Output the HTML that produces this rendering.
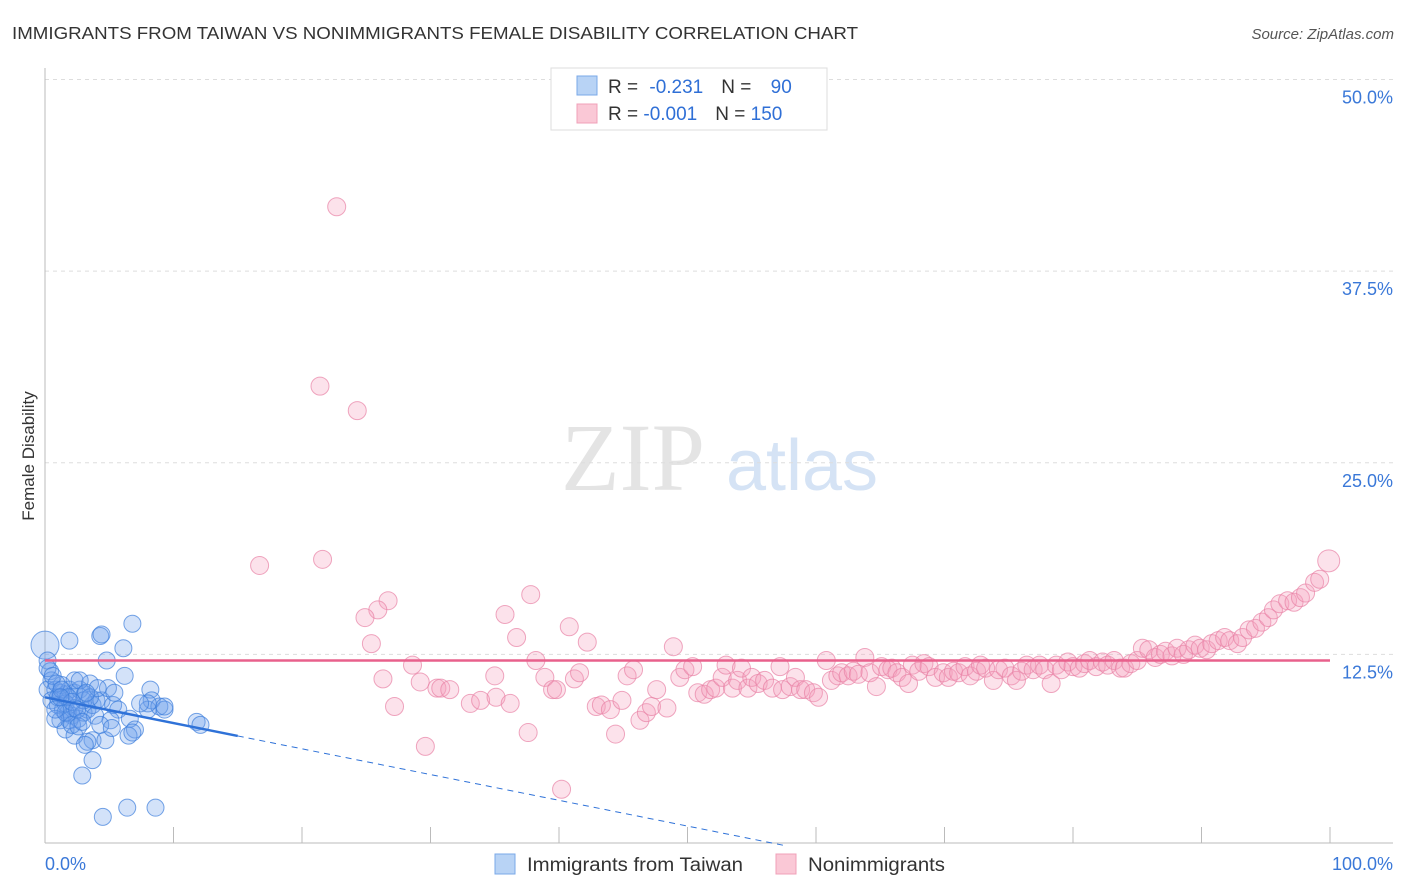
<!DOCTYPE html>
<html><head><meta charset="utf-8">
<style>
body{margin:0;background:#fff;font-family:"Liberation Sans",sans-serif;}
#wrap{position:relative;width:1406px;height:892px;overflow:hidden;}
</style></head>
<body>
<div id="wrap">
<svg id="chart" width="1406" height="892" xmlns="http://www.w3.org/2000/svg">
<text x="12" y="39" font-size="17.5" fill="#333" textLength="846" lengthAdjust="spacingAndGlyphs">IMMIGRANTS FROM TAIWAN VS NONIMMIGRANTS FEMALE DISABILITY CORRELATION CHART</text>
<text x="1394" y="39" font-size="15" fill="#555" font-style="italic" text-anchor="end">Source: ZipAtlas.com</text>
<text x="34" y="456" font-size="17" fill="#333" text-anchor="middle" transform="rotate(-90 34 456)">Female Disability</text>
<g>
<text x="633" y="490" font-size="96" fill="#e4e4e4" font-family="Liberation Serif,serif" text-anchor="middle">ZIP</text>
<text x="802" y="490" font-size="72" fill="#d5e3f5" text-anchor="middle">atlas</text>
</g>
<g id="grid"></g>
<g id="axes"></g>
<g id="pinkPts"></g>
<g id="bluePts"></g>
<g id="trends"></g>
<g>
<rect x="551" y="68" width="276" height="62" fill="#fff" stroke="#ddd"/>
<rect x="577" y="76" width="20" height="19" fill="#b8d3f5" stroke="#7aa8e8"/>
<rect x="577" y="104" width="20" height="19" fill="#fac8d6" stroke="#f0a0b8"/>
<text x="608" y="93" font-size="19" fill="#333">R = <tspan fill="#2f6fd6" dx="6">-0.231</tspan><tspan dx="18" fill="#333">N = </tspan><tspan fill="#2f6fd6" dx="14">90</tspan></text>
<text x="608" y="120" font-size="19" fill="#333">R = <tspan fill="#2f6fd6">-0.001</tspan><tspan dx="18" fill="#333">N = </tspan><tspan fill="#2f6fd6">150</tspan></text>
</g>
<g>
<rect x="495" y="854" width="20" height="20" fill="#b8d3f5" stroke="#7aa8e8"/>
<text x="527" y="871" font-size="19" fill="#333" textLength="216" lengthAdjust="spacingAndGlyphs">Immigrants from Taiwan</text>
<rect x="776" y="854" width="20" height="20" fill="#fac8d6" stroke="#f0a0b8"/>
<text x="808" y="871" font-size="19" fill="#333" textLength="137" lengthAdjust="spacingAndGlyphs">Nonimmigrants</text>
</g>
</svg>
</div>
<script>
const yTicks=[12.5,25,37.5,50];
const yTickLabels=["12.5%","25.0%","37.5%","50.0%"];
const xTickVals=[0,10,20,30,40,50,60,70,80,90,100];
const blueX=[0,0.2,0.4,0.5,0.2,0.8,1.2,1.6,1.9,2.3,2.7,3.1,0.5,1.0,1.4,1.8,2.1,2.6,3.0,3.3,3.7,4.0,4.4,4.9,5.3,5.7,6.2,6.1,6.8,4.3,4.4,1.9,4.8,6.6,7.0,8.2,8.3,8.0,8.9,9.3,11.8,12.1,3.7,4.7,3.7,2.9,4.5,6.4,8.6,1.2,1.6,2.3,3.3,1.9,0.8,1.3,2.3,3.5,3.9,5.1,6.5,6.8,8.0,1.0,1.6,2.3,3.0,3.5,2.7,1.6,2.1,2.6,3.1,4.1,5.4,7.4,9.3,0.2,0.6,0.9,1.3,1.8,2.1,2.5,2.9,4.3,5.2,0.8,1.2,3.2];
const blueY=[13.1,12.1,11.4,10.8,10.2,10.2,10.0,9.9,10.2,10.0,10.2,9.9,9.5,9.2,8.9,8.7,8.5,8.3,8.7,8.9,9.2,9.5,9.5,10.3,9.2,8.9,11.1,12.9,14.5,13.7,13.8,13.4,12.1,8.3,7.6,10.2,9.5,8.9,9.1,8.9,8.1,7.9,6.9,6.9,5.6,4.6,1.9,2.5,2.5,8.2,7.6,7.2,6.8,8.2,8.3,10.5,10.8,10.6,8.5,8.2,7.2,7.4,9.3,9.7,9.3,9.0,9.5,9.7,10.8,8.7,7.9,7.8,6.6,10.3,10.0,9.3,9.1,11.6,11.1,10.6,10.2,9.7,9.4,8.9,8.1,7.9,7.7,8.9,9.7,10.0];
const pinkX=[22.7,21.4,24.3,16.7,21.6,26.7,25.9,24.9,25.4,26.3,27.2,28.6,29.2,30.5,30.8,31.5,29.6,33.1,33.9,35.0,35.1,35.8,36.2,36.7,37.6,37.8,38.2,38.9,39.5,39.8,40.2,40.8,41.2,41.6,42.2,42.9,43.3,44.0,44.4,44.9,45.3,45.8,46.3,46.8,47.2,47.6,48.4,48.9,49.4,49.8,50.4,50.8,51.3,51.8,52.2,52.7,53.0,53.5,53.9,54.2,54.7,55.0,55.5,56.0,56.6,57.2,57.4,58.0,58.4,58.8,59.2,59.8,60.2,60.8,61.2,61.7,62.0,62.5,62.9,63.3,63.8,64.2,64.7,65.1,65.6,65.9,66.3,66.7,67.2,67.5,68.0,68.4,68.8,69.3,69.9,70.3,70.7,71.1,71.6,72.0,72.5,72.8,73.2,73.8,74.2,74.7,75.2,75.6,76.0,76.4,76.9,77.4,77.8,78.3,78.7,79.1,79.6,80.0,80.5,80.9,81.3,81.8,82.3,82.7,83.2,83.7,84.0,84.5,85.0,85.4,85.9,86.4,86.8,87.2,87.7,88.1,88.6,89.0,89.5,89.9,90.4,90.8,91.3,91.8,92.2,92.8,93.2,93.7,94.2,94.7,95.2,95.6,96.1,96.7,97.2,97.7,98.1,98.8,99.2,99.9];
const pinkY=[41.7,30.0,28.4,18.3,18.7,16.0,15.4,14.9,13.2,10.9,9.1,11.8,10.7,10.3,10.3,10.2,6.5,9.3,9.5,11.1,9.7,15.1,9.3,13.6,7.4,16.4,12.1,11.0,10.2,10.2,3.7,14.3,10.9,11.3,13.3,9.1,9.2,8.9,7.3,9.5,11.1,11.5,8.2,8.7,9.1,10.2,9.0,13.0,11.0,11.5,11.7,10.0,9.9,10.2,10.3,11.0,11.8,10.3,10.8,11.6,10.3,11.0,10.6,10.8,10.3,11.7,10.2,10.4,11.0,10.2,10.2,10.0,9.7,12.1,10.8,11.1,11.3,11.1,11.4,11.2,12.3,11.3,10.4,11.7,11.5,11.6,11.3,11.0,10.6,11.8,11.4,11.9,11.7,11.0,11.3,11.0,11.4,11.3,11.7,11.1,11.4,11.8,11.6,10.8,11.5,11.6,11.1,10.8,11.4,11.8,11.5,11.8,11.5,10.6,11.8,11.5,12.0,11.7,11.6,11.9,12.1,11.7,12.0,11.8,12.1,11.6,11.6,11.9,12.1,12.9,12.8,12.3,12.5,12.7,12.4,12.9,12.5,12.8,13.1,12.9,12.8,13.2,13.4,13.6,13.4,13.2,13.6,14.1,14.2,14.6,14.9,15.4,15.8,16.0,15.9,16.2,16.5,17.2,17.4,18.6];
const blueTrend=[9.7,-0.168];
const pinkTrend=[12.1,0];
const NS="http://www.w3.org/2000/svg";
const X0=45,X1=1330,Y0=846,YS=15.33;
function xs(v){return X0+(X1-X0)*v/100;}
function ys(v){return Y0-v*YS;}
function mk(tag,attrs,parent){const e=document.createElementNS(NS,tag);for(const k in attrs)e.setAttribute(k,attrs[k]);parent.appendChild(e);return e;}
const grid=document.getElementById('grid'),axes=document.getElementById('axes');
yTicks.forEach((t,i)=>{
  const l=mk('line',{x1:X0,x2:1393,y1:ys(t),y2:ys(t),stroke:'#ddd','stroke-dasharray':'4,4'},grid);
  
  
  const tx=mk('text',{x:1393,y:ys(t)+24,'font-size':18,fill:'#3a78d8','text-anchor':'end'},axes);
  tx.textContent=yTickLabels[i];
  
  
});
let a=mk('line',{x1:X0,x2:X0,y1:68,y2:843,stroke:'#bbb'},axes);


a=mk('line',{x1:X0,x2:1393,y1:843,y2:843,stroke:'#bbb'},axes);


xTickVals.forEach(t=>{
  const l=mk('line',{x1:xs(t),x2:xs(t),y1:827,y2:843,stroke:'#bbb'},axes);
  
  
});
let t0=mk('text',{x:45,y:870,'font-size':18,fill:'#3a78d8'},axes);t0.textContent='0.0%';


let t1=mk('text',{x:1393,y:870,'font-size':18,fill:'#3a78d8','text-anchor':'end'},axes);t1.textContent='100.0%';


const pp=document.getElementById('pinkPts');
pinkX.forEach((x,i)=>{
  const c=mk('circle',{cx:xs(x),cy:ys(pinkY[i]),r:i==pinkX.length-1?11:9,fill:'rgba(245,160,190,0.3)',stroke:'rgba(232,130,165,0.7)','stroke-width':1},pp);
  
  
});
const bp=document.getElementById('bluePts');
blueX.forEach((x,i)=>{
  const c=mk('circle',{cx:xs(x),cy:ys(blueY[i]),r:i==0?14:8.5,fill:'rgba(110,160,235,0.3)',stroke:'rgba(60,125,220,0.7)','stroke-width':1},bp);
  
  
});
const tr=document.getElementById('trends');
let pl=mk('line',{x1:xs(0),x2:xs(100),y1:ys(pinkTrend[0]),y2:ys(pinkTrend[0]+pinkTrend[1]*100),stroke:'#e8608c','stroke-width':2.5},tr);


const bx=15,bz=-blueTrend[0]/blueTrend[1];
let bl=mk('line',{x1:xs(0),x2:xs(bx),y1:ys(blueTrend[0]),y2:ys(blueTrend[0]+blueTrend[1]*bx),stroke:'#2f72d8','stroke-width':2.5},tr);


let bd=mk('line',{x1:xs(bx),x2:xs(bz),y1:ys(blueTrend[0]+blueTrend[1]*bx),y2:ys(0),stroke:'#2f72d8','stroke-width':1,'stroke-dasharray':'6,5'},tr);


</script>
</body></html>
